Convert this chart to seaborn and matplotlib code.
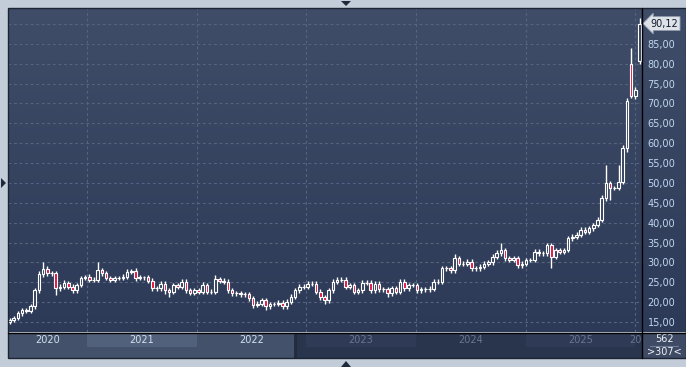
import numpy as np
import pandas as pd
import matplotlib
matplotlib.use("Agg")
import matplotlib.pyplot as plt
import matplotlib.dates as mdates
from matplotlib.colors import LinearSegmentedColormap
from matplotlib.patches import Rectangle, Polygon
from matplotlib.lines import Line2D
import seaborn as sns

# ---------------- data (bi-weekly candles) ----------------
start_date = "2020-04-17"
closes = [15.5, 16.0, 17.2, 18.0, 17.8, 18.9, 23.0, 27.0, 28.4, 27.3,
          27.3, 23.5, 23.9, 24.9, 23.9, 23.0, 24.3, 26.1, 26.4, 25.6,
          25.6, 28.1, 27.3, 26.1, 25.6, 26.1, 26.1, 26.4, 27.6, 27.9,
          26.1, 26.2, 26.2, 25.4, 23.5, 23.5, 24.6, 23.0, 22.6, 24.3,
          23.9, 25.1, 23.0, 22.4, 23.0, 22.6, 24.3, 22.6, 22.6, 25.7,
          25.4, 25.1, 23.0, 22.2, 22.2, 22.0, 22.0, 21.0, 19.3, 19.6,
          20.5, 18.9, 19.5, 19.5, 19.9, 18.9, 20.1, 21.4, 23.0, 23.9,
          23.9, 24.6, 24.6, 22.6, 21.2, 20.5, 23.0, 25.1, 25.6, 25.6,
          23.9, 24.3, 22.6, 23.0, 24.9, 24.9, 23.0, 24.6, 23.2, 23.2,
          22.2, 23.5, 22.6, 25.1, 23.5, 24.3, 24.3, 23.0, 23.2, 23.2,
          23.4, 25.1, 25.1, 28.5, 28.5, 28.0, 31.0, 29.7, 29.7, 30.2,
          28.5, 28.5, 28.9, 29.7, 30.0, 31.4, 32.3, 33.1, 31.0, 30.6,
          31.0, 29.3, 29.7, 30.6, 30.6, 32.7, 32.3, 32.3, 34.4, 31.4,
          33.1, 32.7, 33.1, 36.1, 36.5, 36.9, 38.2, 37.7, 38.6, 39.4,
          40.7, 46.1, 49.9, 48.7, 48.7, 50.3, 58.7, 70.5, 72.0, 73.4, 90.12]
first_open = 15.0
gap_opens = {148: 80.0, 150: 80.6}

wick_hi = [0.4, 0.6, 0.6, 0.5, 0.6, 0.6, 0.5, 0.8, 1.8, 0.6,
           0.6, 0.5, 0.6, 0.6, 0.5, 0.6, 0.6, 0.6, 0.5, 0.6,
           0.6, 2.1, 0.6, 0.6, 0.6, 0.6, 0.6, 0.6, 0.8, 0.5,
           0.6, 0.6, 0.5, 0.6, 0.6, 0.6, 0.6, 0.6, 0.6, 0.6,
           0.6, 0.6, 0.6, 0.6, 0.6, 0.6, 0.8, 0.6, 0.6, 1.2,
           0.6, 0.6, 0.6, 0.6, 0.6, 0.6, 0.6, 0.6, 0.6, 0.6,
           0.6, 0.6, 0.6, 0.6, 0.6, 0.6, 0.6, 0.6, 0.6, 0.6,
           0.6, 0.8, 0.6, 0.6, 0.6, 0.6, 0.6, 0.6, 0.8, 0.6,
           0.6, 0.6, 0.6, 0.6, 0.6, 0.6, 0.6, 0.6, 0.6, 0.6,
           0.6, 0.6, 0.6, 0.6, 0.6, 0.6, 0.6, 0.6, 0.6, 0.6,
           0.6, 0.6, 0.6, 0.6, 0.6, 0.6, 1.2, 0.6, 0.6, 0.6,
           0.6, 0.6, 0.6, 0.6, 0.6, 0.6, 0.8, 1.8, 0.6, 0.6,
           0.6, 0.6, 0.6, 0.6, 0.6, 0.6, 0.6, 0.6, 0.6, 0.6,
           0.6, 0.6, 0.6, 0.6, 0.6, 0.8, 0.6, 0.6, 0.6, 0.6,
           0.8, 0.8, 4.6, 0.6, 0.6, 4.2, 0.8, 1.0, 4.0, 0.8, 1.4]
wick_lo = [0.5, 0.4, 0.6, 0.6, 0.6, 0.6, 0.6, 0.6, 0.6, 0.6,
           0.6, 1.7, 0.6, 0.6, 0.6, 0.6, 0.6, 0.6, 0.6, 0.6,
           0.6, 0.6, 0.6, 0.6, 0.6, 0.6, 0.6, 0.6, 0.6, 0.6,
           0.8, 0.6, 0.6, 0.6, 0.6, 0.6, 0.6, 1.0, 1.2, 0.6,
           0.6, 0.6, 0.6, 0.6, 0.6, 0.6, 0.6, 0.6, 0.6, 0.6,
           0.6, 0.6, 0.6, 0.6, 0.6, 0.6, 0.6, 0.6, 0.8, 0.6,
           0.6, 0.8, 0.6, 0.6, 0.6, 0.6, 0.6, 0.6, 0.6, 0.6,
           0.6, 0.6, 0.6, 0.6, 0.6, 1.0, 0.6, 0.6, 0.6, 0.6,
           0.6, 0.6, 0.6, 0.6, 0.6, 0.6, 0.6, 0.6, 0.6, 0.6,
           1.0, 0.6, 0.6, 0.6, 0.6, 0.6, 0.6, 0.6, 0.6, 0.6,
           0.6, 0.6, 0.6, 0.6, 0.6, 0.6, 0.6, 0.6, 0.6, 0.6,
           0.6, 0.6, 0.6, 0.6, 0.6, 0.6, 0.6, 0.6, 0.6, 0.6,
           0.6, 0.6, 0.6, 0.6, 0.6, 0.6, 0.6, 0.6, 0.6, 2.9,
           0.6, 0.6, 0.6, 0.6, 0.6, 0.6, 0.6, 0.6, 0.6, 0.6,
           0.6, 0.6, 0.6, 3.0, 0.6, 0.6, 0.6, 1.0, 0.6, 1.0, 0.6]

price_ticks = [15, 20, 25, 30, 35, 40, 45, 50, 55, 60, 65, 70, 75, 80, 85]
last_price_label = "90,12"
years = [2020, 2021, 2022, 2023, 2024, 2025, 2026]
nav_window_end = "2022-11-25"
nav_counts = ["562", ">307<"]

# ---------------- derived ----------------
c = np.array(closes)
o = np.concatenate([[first_open], c[:-1]])
for k, v in gap_opens.items():
    o[k] = v
hi = np.maximum(o, c) + np.array(wick_hi)
lo = np.minimum(o, c) - np.array(wick_lo)
dates = pd.date_range(start_date, periods=len(c), freq="14D")
x = mdates.date2num(dates)
up = c >= o

# ---------------- figure ----------------
sns.set_style("dark")
plt.rcParams["font.family"] = ["DejaVu Sans"]

W, H = 686, 367
fig = plt.figure(figsize=(W / 100, H / 100), dpi=100)
fig.patch.set_facecolor("#c3cdd9")


def pax(x0, y0, x1, y1):
    return fig.add_axes([x0 / W, 1 - y1 / H, (x1 - x0) / W, (y1 - y0) / H])


# gradient background for price area + right scale
bg = pax(8, 8, 686, 332)
cmap = LinearSegmentedColormap.from_list("g", ["#404d69", "#2d3a57"])
bg.imshow(np.linspace(0, 1, 256)[:, None], aspect="auto", cmap=cmap, extent=[0, 1, 0, 1])
bg.axis("off")

ax = pax(8, 8, 642, 332)
ax.set_facecolor("none")
xl, xr = x[0] - 5, x[-1] + 8.3
ax.set_xlim(xl, xr)
ax.set_ylim(12.48, 94.03)

grid_kw = dict(color="#56647f", lw=0.8, ls=(0, (2.5, 2.5)), zorder=1)
for yv in price_ticks + [90]:
    ax.axhline(yv, **grid_kw)
year_starts = [mdates.date2num(pd.Timestamp(f"{y}-01-01")) for y in years[1:]]
for xv in year_starts:
    ax.axvline(xv, **grid_kw)

# candles
ax.vlines(x, lo, hi, color="white", lw=1, zorder=2)
bw = 9.0
ax.bar(x[up], (c - o)[up], bottom=o[up], width=bw, facecolor="#34415d",
       edgecolor="white", linewidth=0.8, zorder=3)
ax.bar(x[~up], (o - c)[~up], bottom=c[~up], width=bw, facecolor="#e3123f",
       edgecolor="white", linewidth=0.8, zorder=3)

for s in ax.spines.values():
    s.set_visible(False)
ax.grid(False)
ax.set_xticks([])
ax.yaxis.tick_right()
ax.set_yticks(price_ticks)
ax.set_yticklabels([f"{v:.2f}".replace(".", ",") for v in price_ticks])
ax.tick_params(axis="y", length=0, pad=4, labelsize=7, labelcolor="#c0d7f0")

ax.annotate(last_price_label, xy=(1.0, closes[-1]), xycoords=("axes fraction", "data"),
            xytext=(6, 0), textcoords="offset points", va="center", ha="left",
            fontsize=7, color="#101828",
            bbox=dict(boxstyle="larrow,pad=0.2", fc="#dde2e8", ec="#8f9aab", lw=0.6),
            annotation_clip=False)

# navigator bar
nav = pax(8, 333, 642, 358)
nav.set_xlim(xl, xr)
nav.set_ylim(0, 1)
nav.axis("off")
we = mdates.date2num(pd.Timestamp(nav_window_end))
nav.add_patch(Rectangle((xl, 0), we - xl, 1, fc="#44516b", ec="none"))
nav.add_patch(Rectangle((we, 0), xr - we, 1, fc="#29344d", ec="none"))
edges = [xl] + year_starts + [xr]
strip_cols = {2021: "#51607b", 2023: "#2f3b56", 2025: "#2f3b56"}
for yr, a, b in zip(years, edges[:-1], edges[1:]):
    if yr in strip_cols:
        nav.add_patch(Rectangle((a, 0.44), b - a, 0.56, fc=strip_cols[yr], ec="none"))
nav.axvline(we, color="#222a3b", lw=2)
for yr, a, b in zip(years, edges[:-1], edges[1:]):
    cx = (a + b) / 2 if yr != years[-1] else xr
    col = "#d3e0ee" if cx < we else "#69758f"
    nav.text(cx, 0.72, str(yr), ha="center", va="center", fontsize=7, color=col, clip_on=True)

# count box
rb = pax(642, 333, 686, 358)
rb.set_facecolor("#3f4b64")
rb.set_xticks([]); rb.set_yticks([])
for s in rb.spines.values():
    s.set_visible(False)
rb.set_xlim(0, 1); rb.set_ylim(0, 1)
rb.text(0.5, 0.74, nav_counts[0], ha="center", va="center", fontsize=7, color="#eef2f7")
rb.plot([0.18, 0.82], [0.47, 0.47], color="#6f7c95", lw=0.8)
rb.text(0.5, 0.24, nav_counts[1], ha="center", va="center", fontsize=7, color="#eef2f7")

# separators / frame
def fl(xs, ys, **kw):
    fig.add_artist(Line2D([v / W for v in xs], [1 - v / H for v in ys],
                          transform=fig.transFigure, **kw))

fl([642, 642], [8, 358], color="black", lw=1)
fl([8, 686], [332.5, 332.5], color="black", lw=1)
fig.add_artist(Rectangle((8 / W, 1 - 358 / H), 678 / W, 350 / H, fill=False,
                         ec="#1c2434", lw=1, transform=fig.transFigure))

def tri(pts):
    fig.add_artist(Polygon([(px / W, 1 - py / H) for px, py in pts], closed=True,
                           fc="#1e293b", ec="none", transform=fig.transFigure))

tri([(341, 1), (351, 1), (346, 6)])
tri([(341, 367), (351, 367), (346, 361)])
tri([(1, 178), (1, 188), (6, 183)])

fig.savefig("out.png", dpi=100, facecolor=fig.get_facecolor())
